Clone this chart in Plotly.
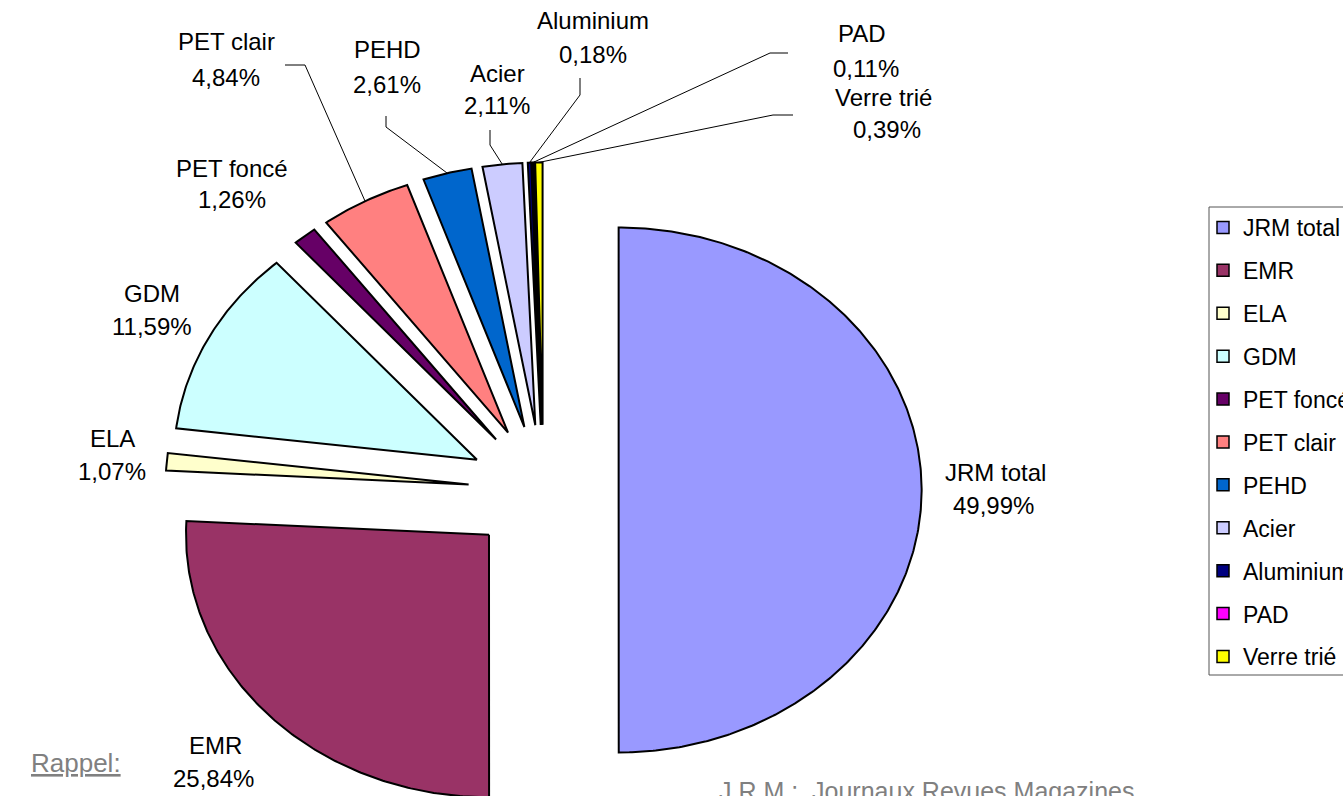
import math
import plotly.graph_objects as go

# Répartition des matériaux triés (%)
categories = ["JRM total", "EMR", "ELA", "GDM", "PET foncé", "PET clair",
              "PEHD", "Acier", "Aluminium", "PAD", "Verre trié"]
shares = [49.99, 25.84, 1.07, 11.59, 1.26, 4.84, 2.61, 2.11, 0.18, 0.11, 0.39]
colors = ["#9999FF", "#993366", "#FFFFCC", "#CCFFFF", "#660066", "#FF8080",
          "#0066CC", "#CCCCFF", "#000080", "#FF00FF", "#FFFF00"]

# page geometry (pixels)
W, H = 1343, 796
CX, CY = 543.5, 490.0      # pie centre
RX, RY = 303.0, 262.5      # horizontal / vertical radius
EXPLODE = 0.248            # slice offset, fraction of the radius

# centres of the two text lines of each data label: (x1, y1, x2, y2)
label_xy = {
    "JRM total": (995, 472, 993, 505),
    "EMR": (215, 745, 213, 778),
    "ELA": (112, 438, 112, 471),
    "GDM": (152, 293, 152, 326),
    "PET foncé": (232, 168, 232, 200),
    "PET clair": (226, 42, 226, 77),
    "PEHD": (387, 50, 387, 85),
    "Acier": (497, 73, 497, 106),
    "Aluminium": (593, 20, 593, 54),
    "PAD": (862, 33, 866, 68),
    "Verre trié": (884, 97, 887, 129),
}
# leader line bends next to the labels
leader_bends = {
    "PET clair": [(285, 65), (305, 65)],
    "PEHD": [(386, 116), (386, 127)],
    "Acier": [(490, 130), (490, 145)],
    "Aluminium": [(580, 78), (580, 95)],
    "PAD": [(788, 53), (770, 53)],
    "Verre trié": [(793, 115), (773, 115)],
}

FONT = "Liberation Sans, Arial, sans-serif"


def u_of(px):
    return (px - CX) / RX


def v_of(py):
    return (CY - py) / RY


def fmt(v):
    return f"{v:.2f}".replace(".", ",") + "%"


fig = go.Figure()

total = sum(shares)
start = 0.0
outer_mid = {}
for name, val, col in zip(categories, shares, colors):
    f0 = start / total
    f1 = (start + val) / total
    start += val
    a0, a1 = 2 * math.pi * f0, 2 * math.pi * f1
    am = 0.5 * (a0 + a1)
    ox, oy = EXPLODE * math.sin(am), EXPLODE * math.cos(am)
    n = max(4, int((a1 - a0) / math.radians(0.5)))
    xs = [ox]
    ys = [oy]
    for k in range(n + 1):
        a = a0 + (a1 - a0) * k / n
        xs.append(ox + math.sin(a))
        ys.append(oy + math.cos(a))
    xs.append(ox)
    ys.append(oy)
    outer_mid[name] = (ox + math.sin(am), oy + math.cos(am))
    fig.add_trace(go.Scatter(
        x=xs, y=ys, mode="lines", fill="toself", fillcolor=col,
        line=dict(color="black", width=2), showlegend=False,
        hoverinfo="text", text=f"{name}: {fmt(val)}",
    ))

# leader lines from the outer arc of a slice to its label
for name, bends in leader_bends.items():
    mx, my = outer_mid[name]
    xs = [u_of(p[0]) for p in bends] + [mx]
    ys = [v_of(p[1]) for p in bends] + [my]
    fig.add_trace(go.Scatter(x=xs, y=ys, mode="lines",
                             line=dict(color="black", width=1),
                             showlegend=False, hoverinfo="skip"))

# legend entries
for name, col in zip(categories, colors):
    fig.add_trace(go.Scatter(
        x=[None], y=[None], mode="markers", name=name, legendgroup=name,
        marker=dict(symbol="square", size=12, color=col,
                    line=dict(color="black", width=1.5)),
    ))

LABEL_FONT = dict(family=FONT, size=24, color="black")
annotations = []
for name, val in zip(categories, shares):
    x1, y1, x2, y2 = label_xy[name]
    annotations.append(dict(x=x1 / W, y=1 - y1 / H, xref="paper", yref="paper",
                            text=name, showarrow=False, font=LABEL_FONT,
                            xanchor="center", yanchor="middle"))
    annotations.append(dict(x=x2 / W, y=1 - y2 / H, xref="paper", yref="paper",
                            text=fmt(val), showarrow=False, font=LABEL_FONT,
                            xanchor="center", yanchor="middle"))

annotations.append(dict(x=123 / W, y=1 - 763 / H, xref="paper", yref="paper",
                        text="Rappel:", showarrow=False, xanchor="right", yanchor="middle",
                        font=dict(family=FONT, size=26, color="#808080",
                                  lineposition="under")))
annotations.append(dict(x=717 / W, y=1 - 791 / H, xref="paper", yref="paper",
                        text="J.R.M :  Journaux Revues Magazines", showarrow=False,
                        xanchor="left", yanchor="middle",
                        font=dict(family=FONT, size=25, color="#808080")))

fig.update_layout(
    width=W, height=H,
    margin=dict(l=0, r=0, t=0, b=0, pad=0, autoexpand=False),
    paper_bgcolor="white", plot_bgcolor="white",
    xaxis=dict(range=[u_of(0), u_of(W)], visible=False, fixedrange=True),
    yaxis=dict(range=[v_of(H), v_of(0)], visible=False, fixedrange=True),
    showlegend=True,
    legend=dict(x=1203 / W, y=1 - 206 / H, xanchor="left", yanchor="top",
                bgcolor="rgba(0,0,0,0)", borderwidth=0,
                font=dict(family=FONT, size=23, color="black"),
                tracegroupgap=10, itemwidth=30),
    shapes=[dict(type="rect", xref="paper", yref="paper",
                 x0=1209 / W, x1=1.05, y0=1 - 675 / H, y1=1 - 207 / H,
                 line=dict(color="#555555", width=1), fillcolor="rgba(0,0,0,0)",
                 layer="below")],
    annotations=annotations,
)

fig.write_html("out.html")
